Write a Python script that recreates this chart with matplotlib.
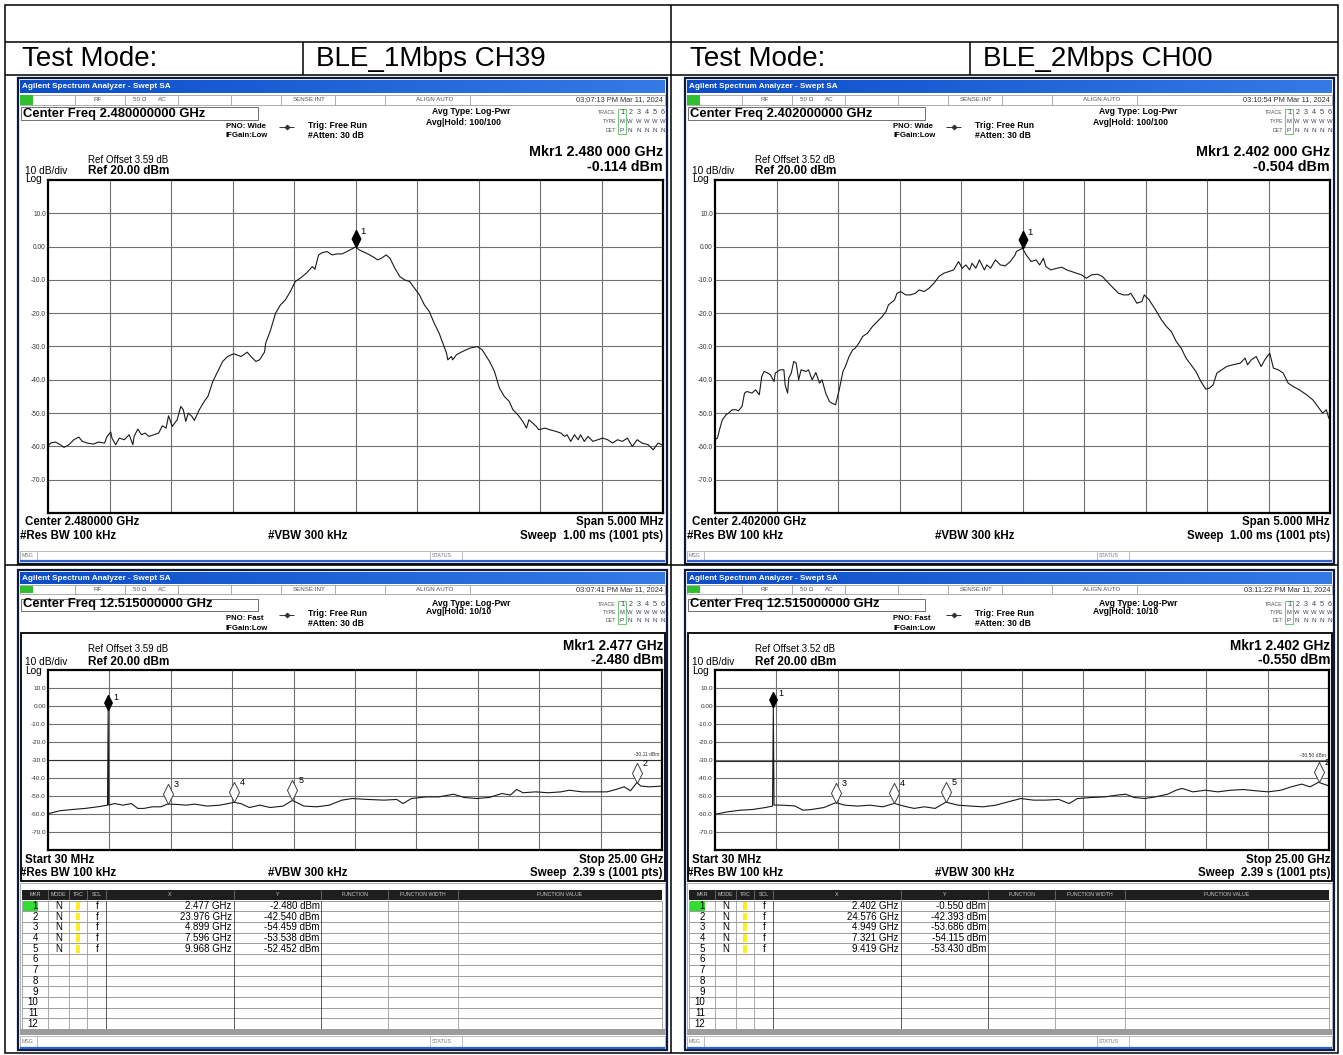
import numpy as np
import matplotlib.pyplot as plt
from matplotlib.path import Path

plt.rcParams['font.family'] = ['Liberation Sans', 'DejaVu Sans']

W, H = 1343, 1055
DX = 667  # shift of the right-hand column, px

# ---- in-band spectra: offset from centre (MHz), level (dBm) ----
ch39_center = 2480.0
ch39_off = [-2.50, -2.48, -2.44, -2.40, -2.37, -2.33, -2.29, -2.25, -2.22, -2.18,
            -2.13, -2.09, -2.04, -2.02, -1.99, -1.98, -1.95, -1.92, -1.88, -1.84,
            -1.81, -1.80, -1.77, -1.74, -1.71, -1.68, -1.64, -1.60, -1.57, -1.54,
            -1.52, -1.49, -1.45, -1.42, -1.40, -1.38, -1.36, -1.33, -1.31, -1.27,
            -1.23, -1.20, -1.16, -1.12, -1.08, -1.04, -0.99, -0.93, -0.88, -0.85,
            -0.81, -0.78, -0.74, -0.73, -0.69, -0.65, -0.61, -0.57, -0.53, -0.49,
            -0.45, -0.40, -0.35, -0.33, -0.30, -0.27, -0.23, -0.19, -0.15, -0.11,
            -0.07, 0.00, 0.03, 0.09, 0.14, 0.18, 0.21, 0.25, 0.28, 0.32,
            0.36, 0.40, 0.44, 0.48, 0.52, 0.56, 0.60, 0.64, 0.68, 0.71,
            0.74, 0.75, 0.78, 0.79, 0.82, 0.87, 0.93, 0.99, 1.03, 1.09,
            1.13, 1.17, 1.21, 1.25, 1.28, 1.32, 1.36, 1.39, 1.41, 1.44,
            1.47, 1.49, 1.54, 1.58, 1.63, 1.67, 1.70, 1.72, 1.75, 1.78,
            1.81, 1.83, 1.86, 1.89, 1.93, 1.97, 2.01, 2.05, 2.09, 2.13,
            2.17, 2.21, 2.25, 2.29, 2.33, 2.38, 2.42, 2.46, 2.49]
ch39_dbm = [-60.0, -59.0, -58.7, -59.5, -60.3, -59.5, -58.0, -57.2, -58.5, -59.0,
            -59.3, -58.7, -59.0, -57.0, -55.7, -57.5, -59.5, -57.5, -58.0, -56.5,
            -59.5, -57.0, -54.8, -56.5, -56.0, -57.0, -56.5, -56.0, -53.8, -54.5,
            -50.8, -54.0, -52.0, -48.0, -49.0, -52.5, -50.0, -51.0, -52.2, -49.0,
            -46.5, -45.0, -40.5, -37.5, -34.5, -33.0, -32.2, -33.0, -31.7, -33.0,
            -34.5, -34.0, -31.7, -29.0, -25.0, -20.0, -17.5, -16.0, -13.5, -10.5,
            -9.5, -8.0, -6.0, -6.8, -2.5, -1.8, -1.5, -2.5, -2.2, -2.2,
            -1.5, -0.11, -1.0, -2.0, -3.0, -4.0, -3.5, -2.5, -3.5, -6.5,
            -9.0, -10.0, -10.5, -12.5, -14.5, -17.5, -19.5, -23.0, -26.0, -29.0,
            -32.0, -34.0, -33.0, -34.0, -32.5, -31.5, -30.5, -30.0, -31.0, -34.5,
            -37.5, -42.5, -45.0, -46.5, -49.0, -50.5, -52.5, -54.5, -52.0, -53.0,
            -54.0, -55.0, -54.5, -55.0, -55.5, -56.0, -57.0, -56.5, -58.5, -56.5,
            -58.0, -56.5, -58.5, -57.0, -58.5, -58.0, -57.5, -58.0, -59.0, -58.0,
            -58.5, -57.5, -60.0, -58.0, -59.0, -59.5, -61.0, -59.0, -59.5]

ch00_center = 2402.0
ch00_off = [-2.50, -2.48, -2.46, -2.44, -2.41, -2.39, -2.36, -2.33, -2.31, -2.28,
            -2.26, -2.24, -2.20, -2.17, -2.14, -2.12, -2.10, -2.07, -2.05, -2.02,
            -2.01, -1.97, -1.94, -1.93, -1.91, -1.90, -1.88, -1.86, -1.84, -1.82,
            -1.80, -1.76, -1.74, -1.71, -1.68, -1.65, -1.63, -1.60, -1.57, -1.55,
            -1.52, -1.51, -1.49, -1.46, -1.44, -1.41, -1.38, -1.36, -1.33, -1.30,
            -1.26, -1.22, -1.18, -1.14, -1.11, -1.09, -1.04, -1.02, -0.99, -0.95,
            -0.91, -0.87, -0.84, -0.80, -0.76, -0.72, -0.68, -0.64, -0.60, -0.56,
            -0.52, -0.49, -0.46, -0.43, -0.41, -0.38, -0.35, -0.31, -0.29, -0.26,
            -0.22, -0.18, -0.14, -0.10, -0.06,
            -0.05, 0.00, 0.03, 0.07, 0.11, 0.14, 0.17, 0.19, 0.23, 0.28,
            0.32, 0.36, 0.40, 0.44, 0.48, 0.52, 0.56, 0.61, 0.65, 0.70,
            0.74, 0.78, 0.82, 0.86, 0.88, 0.93, 0.97, 0.99, 1.03, 1.09,
            1.13, 1.17, 1.21, 1.25, 1.29, 1.33, 1.37, 1.41, 1.45, 1.49,
            1.52, 1.55, 1.58, 1.62, 1.66, 1.71, 1.77, 1.81, 1.83, 1.86,
            1.90, 1.94, 1.97, 2.01, 2.04, 2.08, 2.12, 2.16, 2.20, 2.25,
            2.31, 2.36, 2.40, 2.44, 2.47, 2.49]
ch00_dbm = [-58.0, -57.5, -54.5, -52.0, -50.5, -50.0, -49.0, -49.0, -49.3, -48.0,
            -44.0, -43.5, -44.0, -43.0, -44.5, -39.0, -37.5, -38.0, -38.5, -40.5,
            -38.0, -37.0, -37.0, -41.5, -44.0, -39.5, -38.0, -34.5, -35.0, -40.0,
            -37.0, -37.5, -37.0, -40.0, -37.8, -41.0, -40.0, -44.0, -46.5, -47.0,
            -47.5, -46.0, -43.0, -37.5, -36.0, -33.0, -31.0, -30.5, -29.0, -27.0,
            -26.0, -24.0, -22.5, -21.0, -19.5, -17.5, -16.0, -14.0, -13.5, -14.5,
            -14.5, -14.0, -13.0, -13.5, -12.5, -11.0, -9.0, -8.0, -7.5, -7.0,
            -4.5, -6.5, -5.5, -7.0, -5.0, -6.5, -4.0, -7.0, -5.5, -6.5,
            -4.0, -5.5, -5.8, -4.5, -2.5,
            -1.5, -0.50, -2.5, -4.5, -4.0, -5.5, -3.5, -6.0, -7.0, -6.5,
            -6.2, -7.0, -7.5, -8.0, -8.5, -9.5, -8.5, -8.3, -9.0, -11.0,
            -12.5, -14.0, -14.5, -14.5, -14.0, -17.0, -16.5, -14.5, -16.0, -19.5,
            -22.0, -24.0, -25.5, -28.5, -30.5, -33.5, -35.5, -37.5, -40.5, -42.8,
            -42.5, -41.5, -38.0, -37.0, -36.0, -35.5, -35.0, -33.5, -35.5, -34.0,
            -33.0, -36.0, -34.0, -32.0, -36.5, -37.0, -38.0, -41.0, -42.0, -43.0,
            -44.5, -46.0, -48.0, -50.0, -49.0, -51.5]

# ---- 30 MHz - 25 GHz sweeps: frequency (GHz), level (dBm) ----
sp39_f = [0.08, 0.51, 1.02, 1.54, 2.05, 2.45, 2.477, 2.50, 2.74, 3.08,
          3.42, 3.68, 3.93, 4.28, 4.62, 4.899, 5.30, 5.65, 5.99, 6.50,
          7.02, 7.596, 7.87, 8.22, 8.64, 9.07, 9.59, 9.968, 10.44, 10.96,
          11.47, 11.98, 12.41, 13.01, 13.70, 14.21, 14.47, 14.81, 15.41, 15.92,
          16.52, 16.95, 17.46, 17.98, 18.49, 18.83, 19.09, 19.35, 19.86, 20.38,
          20.89, 21.23, 21.75, 22.26, 22.77, 23.12, 23.46, 23.72, 23.976, 24.14,
          24.49, 25.00]
sp39_dbm = [-59.7, -58.2, -57.5, -56.9, -56.0, -55.1, -2.48, -55.0, -54.2, -55.1,
            -54.2, -56.9, -56.9, -56.0, -56.0, -54.46, -54.7, -55.1, -54.5, -55.6,
            -55.1, -53.54, -54.2, -56.4, -55.1, -56.4, -55.6, -52.45, -55.6, -56.0,
            -55.1, -52.3, -51.4, -51.9, -52.3, -51.9, -54.2, -51.4, -50.5, -50.5,
            -49.0, -50.8, -51.4, -50.8, -48.6, -49.5, -46.4, -48.2, -47.7, -48.2,
            -47.7, -46.8, -47.7, -47.7, -47.7, -46.4, -44.9, -47.1, -42.54, -44.5,
            -44.9, -44.5]
sp00_f = [0.06, 0.54, 1.05, 1.56, 2.08, 2.37, 2.402, 2.43, 2.76, 3.27,
          3.61, 3.95, 4.46, 4.949, 5.31, 5.83, 6.34, 6.85, 7.321, 7.70,
          8.13, 8.55, 8.98, 9.419, 9.92, 10.43, 10.94, 11.45, 11.96, 12.47,
          12.98, 13.49, 14.01, 14.43, 14.77, 15.37, 15.88, 16.39, 16.73, 17.07,
          17.50, 17.93, 18.44, 18.78, 19.03, 19.46, 19.97, 20.48, 20.99, 21.51,
          22.02, 22.53, 23.04, 23.47, 23.89, 24.23, 24.576, 25.00]
sp00_dbm = [-60.1, -58.8, -57.9, -57.5, -56.4, -55.6, -0.55, -55.0, -55.1, -55.5,
            -57.9, -57.5, -56.4, -53.69, -55.1, -55.6, -55.1, -56.0, -54.12, -55.6,
            -56.9, -56.0, -56.9, -53.43, -55.1, -55.6, -56.0, -55.1, -53.2, -51.4,
            -52.3, -52.3, -51.9, -54.2, -51.4, -50.8, -50.5, -49.5, -49.0, -50.8,
            -51.4, -50.5, -49.0, -46.8, -45.8, -47.7, -46.8, -47.7, -46.8, -46.4,
            -47.1, -47.7, -46.8, -44.9, -43.4, -44.9, -42.39, -44.4]

# ---- marker tables ----
mk39_x = [2.477, 23.976, 4.899, 7.596, 9.968]
mk39_y = [-2.480, -42.540, -54.459, -53.538, -52.452]
mk00_x = [2.402, 24.576, 4.949, 7.321, 9.419]
mk00_y = [-0.550, -42.393, -53.686, -54.115, -53.430]

ytick_vals = [10, 0, -10, -20, -30, -40, -50, -60, -70]
ytick_lbls = ['10.0', '0.00', '-10.0', '-20.0', '-30.0', '-40.0', '-50.0', '-60.0', '-70.0']

fig = plt.figure(figsize=(W / 100, H / 100), dpi=100)
bg = fig.add_axes([0, 0, 1, 1])
bg.set_xlim(0, W)
bg.set_ylim(H, 0)
bg.axis('off')
bg.set_autoscale_on(False)

tip = Path([(0, 0), (0.5, 1), (0, 2), (-0.5, 1), (0, 0)],
           [Path.MOVETO, Path.LINETO, Path.LINETO, Path.LINETO, Path.CLOSEPOLY])


def px_axes(x0, y0, x1, y1):
    return fig.add_axes([x0 / W, 1 - y1 / H, (x1 - x0) / W, (y1 - y0) / H])


def rect(x0, y0, x1, y1, fc='none', ec='none', lw=0.7, z=1):
    bg.add_patch(plt.Rectangle((x0, y0), x1 - x0, y1 - y0, fc=fc, ec=ec, lw=lw, zorder=z))


def seg(x0, y0, x1, y1, color='black', lw=0.7, z=2):
    bg.plot([x0, x1], [y0, y1], color=color, lw=lw, zorder=z, solid_capstyle='butt')


def put(x, y, s, size=6, ha='left', weight='normal', color='black', va='center'):
    bg.text(x, y, s, fontsize=size, ha=ha, va=va, fontweight=weight, color=color, zorder=5)


def header(ox, y, date, cf, pno, avg, offset, mkr):
    # y: dict of row positions for this screenshot
    rect(ox + 20, y['title'][0], ox + 665, y['title'][1], fc='#1c5fcf', z=2)
    grad = np.linspace(0, 1, 64)[None, :, None] * np.array([0.15, 0.18, 0.12]) + np.array([0.05, 0.30, 0.78])
    bg.imshow(grad, extent=[ox + 20, ox + 665, y['title'][1], y['title'][0]], aspect='auto', zorder=3)
    put(ox + 22, sum(y['title']) / 2, 'Agilent Spectrum Analyzer - Swept SA', 5.9, weight='bold', color='white')
    s0, s1 = y['status']
    rect(ox + 20, s0, ox + 665, s1, fc='white', ec='#a0a0a0', lw=0.6, z=2)
    rect(ox + 20, s0 + 0.5, ox + 33, s1 - 0.5, fc='#2fbf2f', z=3)
    for cx in [75, 125, 178, 231, 281, 335, 385, 470]:
        seg(ox + cx, s0, ox + cx, s1, '#a0a0a0', 0.6)
    sm = (s0 + s1) / 2
    put(ox + 98, sm, 'RF', 4.5, ha='center', color='#555555')
    put(ox + 133, sm, '50 \u03a9', 4.5, color='#555555')
    put(ox + 158, sm, 'AC', 4.5, color='#555555')
    put(ox + 293, sm, 'SENSE:INT', 4.5, color='#555555')
    put(ox + 435, sm, 'ALIGN AUTO', 4.5, ha='center', color='#555555')
    put(ox + 663, sm, date, 5.3, ha='right', color='#333333')
    c0, c1 = y['cf']
    rect(ox + 21, c0, ox + 258, c1, fc='white', ec='#707070', lw=0.7, z=2)
    put(ox + 23, (c0 + c1) / 2, cf, 9.4, weight='bold')
    put(ox + 226, y['pno'][0], pno, 5.6, weight='bold')
    put(ox + 226, y['pno'][1], 'IFGain:Low', 5.6, weight='bold')
    seg(ox + 279, y['trig'][0] + 1, ox + 294, y['trig'][0] + 1, '#333333', 0.7, z=4)
    bg.plot([ox + 286.5], [y['trig'][0] + 1], marker='D', ms=2.2, color='#333333', zorder=4)
    put(ox + 308, y['trig'][0], 'Trig: Free Run', 6.2, weight='bold')
    put(ox + 308, y['trig'][1], '#Atten: 30 dB', 6.2, weight='bold')
    put(ox + 471, y['avg'][0], 'Avg Type: Log-Pwr', 6.2, ha='center', weight='bold')
    put(ox + 426, y['avg'][1], avg, 6.2, weight='bold')
    t = y['trace']
    put(ox + 616, t[0], 'TRACE', 3.8, ha='right', color='#555555')
    put(ox + 616, t[1], 'TYPE', 3.8, ha='right', color='#555555')
    put(ox + 616, t[2], 'DET', 3.8, ha='right', color='#555555')
    rect(ox + 618, t[0] - 4.5, ox + 626, t[2] + 4, ec='#7cc47c', lw=0.8, z=3)
    for i in range(6):
        cx = ox + 622 + i * 8.2
        put(cx, t[0], str(i + 1), 5.2, ha='center', color='#404060')
        put(cx, t[1], 'M' if i == 0 else 'W', 4.2, ha='center', color='#404060')
        put(cx, t[2], 'P' if i == 0 else 'N', 4.6, ha='center', color='#404060')
    put(ox + 88, y['ref'][0], offset, 7)
    put(ox + 88, y['ref'][1], 'Ref 20.00 dBm', 8.5, weight='bold')
    put(ox + 25, y['ref'][1] + 0.5, '10 dB/div', 7.3)
    put(ox + 25, y['log'], 'Log', 7.3)
    put(ox + 663, y['mkr'][0], mkr[0], y['mkr_fs'], ha='right', weight='bold')
    put(ox + 663, y['mkr'][1], mkr[1], y['mkr_fs'], ha='right', weight='bold')


def footer(ox, y, left, right, sweep):
    put(ox + 25, y['foot'][0], left, 8.3, weight='bold')
    put(ox + 663, y['foot'][0], right, 8.3, ha='right', weight='bold')
    put(ox + 20, y['foot'][1], '#Res BW 100 kHz', 8.3, weight='bold')
    put(ox + 268, y['foot'][1], '#VBW 300 kHz', 8.3, weight='bold')
    put(ox + 663, y['foot'][1], sweep, 8.3, ha='right', weight='bold')
    m0, m1 = y['msg']
    rect(ox + 20, m0, ox + 665, m1, fc='white', ec='#b0b0b0', lw=0.6, z=2)
    seg(ox + 37, m0, ox + 37, m1, '#b0b0b0', 0.6)
    seg(ox + 430, m0, ox + 430, m1, '#b0b0b0', 0.6)
    seg(ox + 462, m0, ox + 462, m1, '#b0b0b0', 0.6)
    put(ox + 22, (m0 + m1) / 2, 'MSG', 3.8, color='#777777')
    put(ox + 432, (m0 + m1) / 2, 'STATUS', 3.8, color='#777777')
    seg(ox + 20, m1 + 0.8, ox + 665, m1 + 0.8, '#2f62c8', 1.6, z=3)


def spectrum_axes(x0, y0, x1, y1, xlo, xhi, fs):
    ax = px_axes(x0, y0, x1, y1)
    ax.set_xlim(xlo, xhi)
    ax.set_ylim(-80, 20)
    ax.set_xticks(np.linspace(xlo, xhi, 11)[1:-1])
    ax.set_yticks(ytick_vals)
    ax.set_yticklabels(ytick_lbls, fontsize=fs, color='#333333')
    ax.tick_params(length=0, pad=1.5, labelbottom=False)
    ax.grid(True, color='#707070', lw=0.8)
    ax.set_axisbelow(True)
    for s in ax.spines.values():
        s.set_linewidth(1.6)
    return ax


def marker_table(ox, xs, ys):
    cols = [22, 48.3, 68.5, 87.4, 106.4, 233.5, 321, 388.4, 457.8, 662]
    h0, h1 = 890, 899.6
    rect(ox + 20, 883, ox + 665, 1034, fc='white', ec='#a0a0a0', lw=0.6, z=1)
    rect(ox + cols[0], h0, ox + cols[-1], h1, fc='#1e1e1e', z=2)
    names = ['MKR', 'MODE', 'TRC', 'SCL', 'X', 'Y', 'FUNCTION', 'FUNCTION WIDTH', 'FUNCTION VALUE']
    for i, name in enumerate(names):
        put(ox + (cols[i] + cols[i + 1]) / 2, (h0 + h1) / 2, name, 3.8, ha='center', color='#c8c8c8')
        if i > 0:
            seg(ox + cols[i], h0, ox + cols[i], h1, '#707070', 0.6, z=3)
    rh = 10.72
    top = 900.5
    for r in range(13):
        seg(ox + cols[0], top + r * rh, ox + cols[-1], top + r * rh, '#8c8c8c', 0.6)
    for i, cx in enumerate(cols):
        dark = cx in (106.4, 233.5, 321)
        seg(ox + cx, top, ox + cx, top + 12 * rh, '#404040' if dark else '#9a9a9a', 0.6)
    rect(ox + 22.5, top + 0.5, ox + 37.5, top + rh - 0.5, fc='#33dd33', z=2)
    for r in range(12):
        yc = top + (r + 0.5) * rh
        put(ox + 38, yc, str(r + 1), 7, ha='right')
        if r < len(xs):
            put(ox + 58.4, yc, 'N', 7, ha='center')
            rect(ox + 76, top + r * rh + 1.5, ox + 80, top + (r + 1) * rh - 1.5, fc='#ffee22', z=2)
            put(ox + 96.9, yc, 'f', 7, ha='center')
            put(ox + 231.5, yc, f'{xs[r]:.3f} GHz', 7, ha='right')
            put(ox + 319.5, yc, f'{ys[r]:.3f} dBm', 7, ha='right')
    rect(ox + 20, 1029.2, ox + 665, 1034.5, fc='#9c9c9c', z=2)


# ---- outer report table ----
bg.add_patch(plt.Rectangle((5, 5), 1333, 1048, fc='white', ec='black', lw=1.1, zorder=0))
for yy in [42, 75, 565]:
    seg(5, yy, 1338, yy, 'black', 1.1, z=6)
seg(671, 5, 671, 1053, 'black', 1.1, z=6)
seg(303, 42, 303, 75, 'black', 1.1, z=6)
seg(970, 42, 970, 75, 'black', 1.1, z=6)
put(22, 59, 'Test Mode:', 20)
put(316, 59, 'BLE_1Mbps CH39', 20)
put(690, 59, 'Test Mode:', 20)
put(983, 59, 'BLE_2Mbps CH00', 20)

# ---- in-band screenshots (top row) ----
ytop = dict(title=(80, 93), status=(94.5, 105), cf=(107, 120), pno=(126, 135.5), trig=(125.5, 135.5),
            avg=(111.5, 122.3), trace=(113, 121.5, 130.3), ref=(159.7, 170.8), log=(179.5),
            mkr=(152.5, 167.3), mkr_fs=10.3, foot=(521.7, 536), msg=(550.5, 560.5))
top_cases = [
    (0, ch39_center, ch39_off, ch39_dbm, -0.114, '03:07:13 PM Mar 11, 2024',
     'Center Freq 2.480000000 GHz', 'Ref Offset 3.59 dB', ('Mkr1 2.480 000 GHz', '-0.114 dBm')),
    (DX, ch00_center, ch00_off, ch00_dbm, -0.504, '03:10:54 PM Mar 11, 2024',
     'Center Freq 2.402000000 GHz', 'Ref Offset 3.52 dB', ('Mkr1 2.402 000 GHz', '-0.504 dBm')),
]
for ox, fc_mhz, off, lvl, peak, date, cf, offset, mkr in top_cases:
    rect(ox + 18, 78, ox + 667, 563.5, fc='white', ec='#0d1a40', lw=1.6, z=1)
    header(ox, ytop, date, cf, 'PNO: Wide', 'Avg|Hold: 100/100', offset, mkr)
    ax = spectrum_axes(ox + 48, 180, ox + 663, 513, fc_mhz - 2.5, fc_mhz + 2.5, 4.8)
    ax.plot(fc_mhz + np.array(off), lvl, color='#1a1a1a', lw=0.8)
    ax.plot([fc_mhz], [peak], marker=tip, ms=24.5, color='black', ls='none', clip_on=False, zorder=4)
    ax.annotate('1', (fc_mhz, peak), xytext=(3.5, 11.5), textcoords='offset points',
                fontsize=6.8, va='center')
    footer(ox, ytop, 'Center %.6f GHz' % (fc_mhz / 1000), 'Span 5.000 MHz', 'Sweep  1.00 ms (1001 pts)')

# ---- spurious sweeps (bottom row) ----
ybot = dict(title=(572.5, 584), status=(585, 593.5), cf=(598.5, 610.5), pno=(619, 628), trig=(614, 623),
            avg=(603, 612), trace=(605, 612.7, 620), ref=(649, 661.7), log=(670.5),
            mkr=(645.5, 660.5), mkr_fs=9.8, foot=(860, 873.3), msg=(1035.5, 1047))
bot_cases = [
    (0, sp39_f, sp39_dbm, mk39_x, mk39_y, '-30.11 dBm', '03:07:41 PM Mar 11, 2024',
     'Ref Offset 3.59 dB', ('Mkr1 2.477 GHz', '-2.480 dBm')),
    (DX, sp00_f, sp00_dbm, mk00_x, mk00_y, '-30.50 dBm', '03:11:22 PM Mar 11, 2024',
     'Ref Offset 3.52 dB', ('Mkr1 2.402 GHz', '-0.550 dBm')),
]
for ox, fs_, lv, mx, my, dl, date, offset, mkr in bot_cases:
    rect(ox + 18, 570, ox + 667, 1050, fc='white', ec='#0d1a40', lw=1.6, z=1)
    header(ox, ybot, date, 'Center Freq 12.515000000 GHz', 'PNO: Fast', 'Avg|Hold: 10/10', offset, mkr)
    rect(ox + 21, 633, ox + 665, 881, ec='black', lw=1.3, z=2)
    ax = spectrum_axes(ox + 48, 670, ox + 662, 850, 0.03, 25.0, 4.6)
    dline = float(dl.split()[0])
    ax.axhline(dline, color='#303030', lw=0.8)
    ax.text(0.995, dline + 1.5, dl, transform=ax.get_yaxis_transform(), ha='right', va='bottom',
            fontsize=3.6, color='#333333')
    ax.plot(fs_, lv, color='#1a1a1a', lw=0.8)
    ax.plot([mx[0]], [my[0]], marker=tip, ms=21.5, color='black', ls='none', clip_on=False, zorder=4)
    ax.annotate('1', (mx[0], my[0]), xytext=(3.5, 9.5), textcoords='offset points', fontsize=6.5, va='center')
    for k in range(1, 5):
        ax.plot([mx[k]], [my[k]], marker=tip, ms=29, mfc='white', mec='#404040', mew=0.7,
                ls='none', clip_on=False, zorder=4)
        ax.annotate(str(k + 1), (mx[k], my[k]), xytext=(4.3, 14), textcoords='offset points',
                    fontsize=6.5, va='center')
    footer(ox, ybot, 'Start 30 MHz', 'Stop 25.00 GHz', 'Sweep  2.39 s (1001 pts)')
    marker_table(ox, mx, my)

bg.set_xlim(0, W)
bg.set_ylim(H, 0)
fig.savefig('out.png', dpi=100)
